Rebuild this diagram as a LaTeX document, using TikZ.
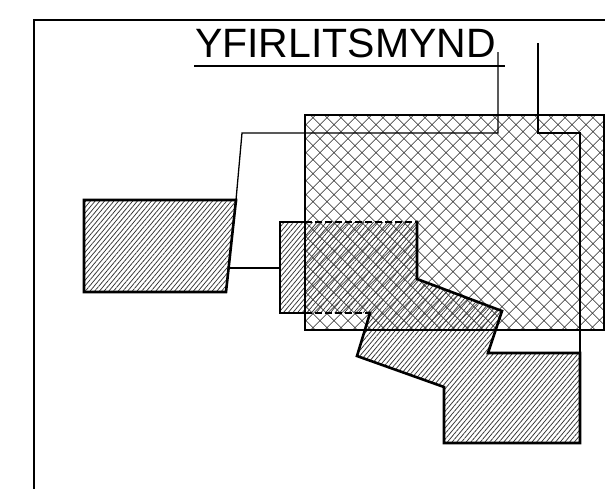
\documentclass[tikz,border=0pt]{standalone}
\usepackage{fontspec}
\setmainfont{Liberation Sans}
\usetikzlibrary{patterns.meta}
\begin{document}
\begin{tikzpicture}[x=1pt,y=-1pt,
  thickline/.style={line width=2.6pt, line join=miter, line cap=rect},
  leader/.style={line width=1.3pt},
  thinframe/.style={line width=1.5pt},
  hatchfill/.style={pattern={Lines[angle=50,distance=3.6pt,line width=0.75pt]}, pattern color=black!80},
  xa/.style={pattern={Lines[angle=45,distance=10.5pt,line width=0.8pt]}, pattern color=black!85},
  xb/.style={pattern={Lines[angle=-45,distance=10.5pt,line width=0.8pt]}, pattern color=black!85},
  dashedge/.style={line width=2.6pt, dash pattern=on 7pt off 3pt},
]
\useasboundingbox (0,0) rectangle (605,488);
% outer frame
\draw[line width=2pt] (640,20) -- (34,20) -- (34,520);
% title
\node[anchor=base west, inner sep=0pt, font=\fontsize{41}{41}\selectfont] (title) at (195,57) {YFIRLITSMYND};
\draw[line width=1.5pt] (194,66) -- (505,66);

% coordinates
\coordinate (c1) at (305,115);
\coordinate (c2) at (604,330);
% hatched main polygon
\coordinate (p1) at (280,222);
\coordinate (p2) at (417,222);
\coordinate (p3) at (417,279);
\coordinate (p4) at (502,311);
\coordinate (p5) at (488,353);
\coordinate (p6) at (580,353);
\coordinate (p7) at (580,443);
\coordinate (p8) at (444,443);
\coordinate (p9) at (444,387);
\coordinate (p10) at (357,356);
\coordinate (p11) at (370,313);
\coordinate (p12) at (280,313);
\coordinate (q1) at (305,222);
\coordinate (q2) at (305,313);
% left trapezoid
\coordinate (t1) at (84,200);
\coordinate (t2) at (236,200);
\coordinate (t3) at (226,292);
\coordinate (t4) at (84,292);

% crosshatched rectangle
\fill[xa] (c1) rectangle (c2);
\fill[xb] (c1) rectangle (c2);
% hatched fills
\fill[hatchfill] (p1) -- (p2) -- (p3) -- (p4) -- (p5) -- (p6) -- (p7) -- (p8) -- (p9) -- (p10) -- (p11) -- (p12) -- cycle;
\fill[hatchfill] (t1) -- (t2) -- (t3) -- (t4) -- cycle;
% crosshatched rectangle border
\draw[thinframe] (c1) rectangle (c2);

% borders
\draw[thickline] (t2) -- (t1) -- (t4) -- (t3) -- (t2);
\draw[thickline] (q1) -- (p1) -- (p12) -- (q2);
\draw[dashedge] (q1) -- (p2);
\draw[dashedge] (q2) -- (p11);
\draw[thickline] (p2) -- (p3) -- (p4) -- (p5) -- (p6) -- (p7) -- (p8) -- (p9) -- (p10) -- (p11);

% leader lines
\coordinate (l1a) at (498,52);
\coordinate (l1b) at (498,133);
\coordinate (l1c) at (242,133);
\coordinate (l1d) at (228.6,268);
\coordinate (l2a) at (538,43);
\coordinate (l2b) at (538,133);
\coordinate (l2c) at (580,133);
\draw[leader] (l1a) -- (l1b) -- (l1c) -- (t2);
\draw[leader] (l1d) -- (l1d -| p1);
\draw[leader] (l2a) -- (l2b) -- (l2c) -- (p6);
\end{tikzpicture}
\end{document}
